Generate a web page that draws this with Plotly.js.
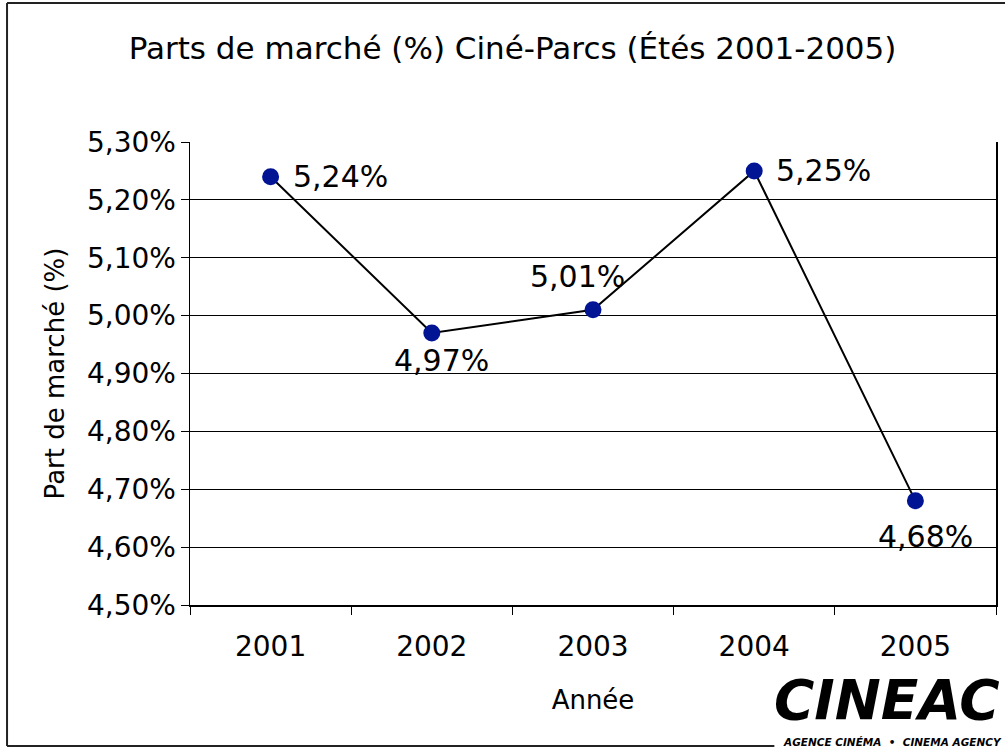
<!DOCTYPE html>
<html>
<head>
<meta charset="utf-8">
<script src="https://cdn.plot.ly/plotly-3.0.1.min.js"></script>
<style>
html,body{margin:0;padding:0;background:#fff;}
#chart{width:1005px;height:748px;}
</style>
</head>
<body>
<div id="chart"></div>
<script>
// ---- data ----
var years = ['2001', '2002', '2003', '2004', '2005'];
var shares = [5.24, 4.97, 5.01, 5.25, 4.68];
var shareLabels = ['5,24%', '4,97%', '5,01%', '5,25%', '4,68%'];
var yTickVals = [4.5, 4.6, 4.7, 4.8, 4.9, 5.0, 5.1, 5.2, 5.3];
var yTickText = ['4,50%', '4,60%', '4,70%', '4,80%', '4,90%', '5,00%', '5,10%', '5,20%', '5,30%'];

// ---- style ----
var FONT = 'DejaVu Sans, Liberation Sans, sans-serif';
var labelOffsets = [
  {xanchor: 'left', yanchor: 'middle', xshift: 20, yshift: 0},
  {xanchor: 'center', yanchor: 'top', xshift: 10, yshift: -8},
  {xanchor: 'right', yanchor: 'bottom', xshift: 34, yshift: 14},
  {xanchor: 'left', yanchor: 'middle', xshift: 20, yshift: 0},
  {xanchor: 'center', yanchor: 'top', xshift: 10, yshift: -16}
];

var annotations = years.map(function (yr, i) {
  var o = labelOffsets[i];
  return {
    x: i, y: shares[i], xref: 'x', yref: 'y', text: shareLabels[i],
    showarrow: false, xanchor: o.xanchor, yanchor: o.yanchor,
    xshift: o.xshift, yshift: o.yshift,
    font: {family: FONT, size: 30, color: '#000'}
  };
});

// logo
annotations.push({
  xref: 'paper', yref: 'paper', x: 0.722, y: -0.205, xanchor: 'left', yanchor: 'middle',
  text: 'CINEAC', showarrow: false,
  font: {family: 'DejaVu Sans, sans-serif', size: 55, color: '#000', weight: 900, style: 'italic'}
});
annotations.push({
  xref: 'paper', yref: 'paper', x: 0.733, y: -0.295, xanchor: 'left', yanchor: 'middle',
  text: 'AGENCE CINÉMA  •  CINEMA AGENCY', showarrow: false,
  font: {family: 'DejaVu Sans, sans-serif', size: 10.5, color: '#000', weight: 700, style: 'italic'}
});

var trace = {
  x: years, y: shares, type: 'scatter', mode: 'lines+markers',
  line: {color: '#000', width: 2},
  marker: {color: '#001494', size: 17},
  hoverinfo: 'skip'
};

var layout = {
  width: 1005, height: 748,
  margin: {l: 190, r: 9, t: 142, b: 143},
  paper_bgcolor: '#fff', plot_bgcolor: '#fff',
  showlegend: false,
  title: {
    text: 'Parts de marché (%) Ciné-Parcs (Étés 2001-2005)',
    font: {family: FONT, size: 31, color: '#000'},
    x: 0.51, xanchor: 'center', y: 0.935, yanchor: 'middle'
  },
  xaxis: {
    type: 'category',
    showline: true, linecolor: '#000', linewidth: 1.5,
    ticks: 'outside', ticklen: 8, tickcolor: '#000', tickson: 'boundaries',
    ticklabelstandoff: 16,
    tickfont: {family: FONT, size: 28, color: '#000'},
    showgrid: false,
    title: {text: 'Année', font: {family: FONT, size: 26, color: '#000'}, standoff: 28},
    range: [-0.5, 4.5]
  },
  yaxis: {
    range: [4.5, 5.3],
    tickvals: yTickVals, ticktext: yTickText,
    showline: true, linecolor: '#000', linewidth: 1.5, mirror: true,
    ticks: 'outside', ticklen: 8, tickcolor: '#000',
    ticklabelstandoff: -1,
    showgrid: true, gridcolor: '#000', gridwidth: 1,
    zeroline: false,
    tickfont: {family: FONT, size: 28, color: '#000'},
    title: {text: 'Part de marché (%)', font: {family: FONT, size: 26, color: '#000'}, standoff: 15}
  },
  annotations: annotations,
  shapes: [
    {type: 'line', xref: 'paper', yref: 'paper', x0: -0.227, x1: 1.02, y0: 1.300, y1: 1.300, line: {color: '#222', width: 2}},
    {type: 'line', xref: 'paper', yref: 'paper', x0: -0.227, x1: -0.227, y0: 1.300, y1: -0.3045, line: {color: '#222', width: 2}},
    {type: 'line', xref: 'paper', yref: 'paper', x0: -0.227, x1: 0.725, y0: -0.3045, y1: -0.3045, line: {color: '#222', width: 2}}
  ]
};

Plotly.newPlot('chart', [trace], layout, {displayModeBar: false, staticPlot: true});
</script>
</body>
</html>
